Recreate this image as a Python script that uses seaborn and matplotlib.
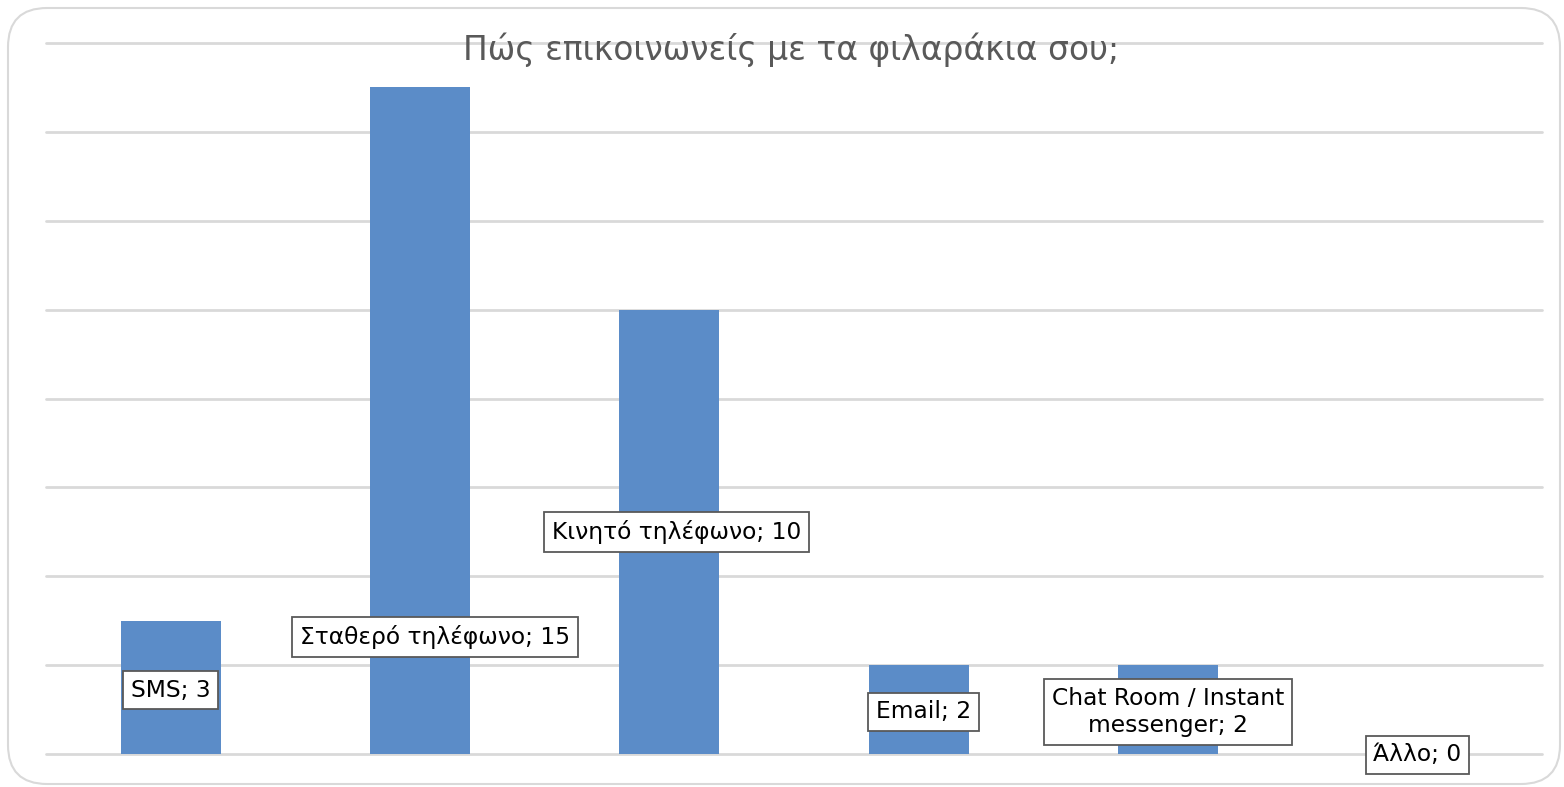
import matplotlib
matplotlib.use("Agg")
import matplotlib.pyplot as plt
import seaborn as sns
import pandas as pd
from matplotlib.patches import FancyBboxPatch

categories = ["SMS", "Σταθερό τηλέφωνο", "Κινητό τηλέφωνο", "Email",
              "Chat Room / Instant\nmessenger", "Άλλο"]
values = [3, 15, 10, 2, 2, 0]
label_texts = ["SMS; 3", "Σταθερό τηλέφωνο; 15", "Κινητό τηλέφωνο; 10", "Email; 2",
               "Chat Room / Instant\nmessenger; 2", "Άλλο; 0"]
title = "Πώς επικοινωνείς με τα φιλαράκια σου;"

# layout of data labels (data units)
label_y = [1.44, 2.63, 5.0, 0.95, 0.95, -0.02]
label_dx = [0.0, 0.06, 0.03, 0.02, 0.0, 0.0]

sns.set_theme(style="white")
plt.rcParams['font.family'] = ['DejaVu Sans']

df = pd.DataFrame({"cat": categories, "val": values})

fig = plt.figure(figsize=(15.64, 7.87), dpi=100)
fig.patch.set_facecolor("white")
border = FancyBboxPatch((8 / 1564, 3 / 787), 1552 / 1564, 776 / 787,
                        boxstyle="round,pad=0,rounding_size=0.025",
                        transform=fig.transFigure, facecolor="none",
                        edgecolor="#d9d9d9", linewidth=1.5, mutation_aspect=1564 / 787,
                        zorder=-1)
fig.patches.append(border)

ax = fig.add_axes([46 / 1564, 33 / 787, 1496 / 1564, 711 / 787])
ax.set_facecolor("none")
sns.barplot(data=df, x="cat", y="val", color="#5b8cc8", saturation=1, width=0.4,
            linewidth=0, ax=ax, zorder=3)
ax.set_xlim(-0.5, 5.5)
ax.set_ylim(0, 16)
ax.set_yticks(range(0, 17, 2))
ax.grid(axis="y", color="#d9d9d9", linewidth=2, zorder=0)
for gl in ax.get_ygridlines():
    gl.set_clip_on(False)
ax.set_axisbelow(True)
for s in ax.spines.values():
    s.set_visible(False)
ax.set_xticks([])
ax.tick_params(left=False, labelleft=False)
ax.set_xlabel("")
ax.set_ylabel("")

for i, (t, y) in enumerate(zip(label_texts, label_y)):
    ax.text(i + label_dx[i], y, t, ha="center", va="center", fontsize=16.8, color="black",
            zorder=5, linespacing=1.25, clip_on=False,
            bbox=dict(boxstyle="square,pad=0.33", facecolor="white", edgecolor="#595959", linewidth=1.3))

fig.text(791 / 1564, 1 - 50 / 787, title, ha="center", va="center", fontsize=23.7, color="#595959")

fig.savefig("out.png", dpi=100)
